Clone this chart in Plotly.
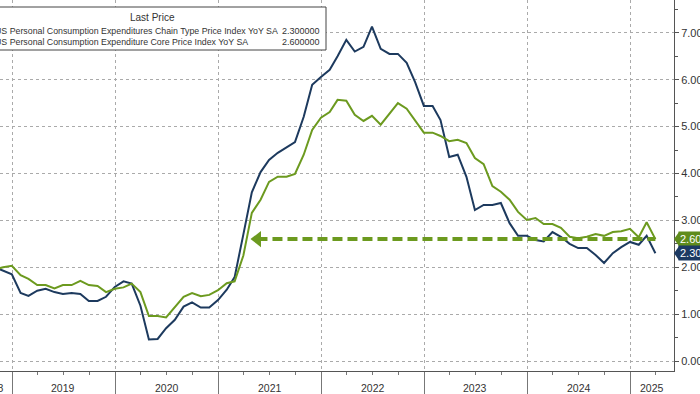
import pandas as pd
import plotly.graph_objects as go

# ---------------- data ----------------
start_month = "2018-10-31"
headline = [
    2.00, 1.93, 1.85,
    1.45, 1.39, 1.50, 1.54, 1.47, 1.43, 1.45, 1.43, 1.28, 1.28, 1.37, 1.58,
    1.70, 1.65, 1.18, 0.46, 0.47, 0.70, 0.88, 1.16, 1.25, 1.14, 1.14, 1.30,
    1.52, 1.79, 2.70, 3.60, 4.03, 4.29, 4.44, 4.55, 4.67, 5.21, 5.89, 6.06,
    6.21, 6.50, 6.85, 6.60, 6.70, 7.13, 6.66, 6.55, 6.55, 6.36, 5.95, 5.44,
    5.44, 5.14, 4.35, 4.40, 3.93, 3.22, 3.33, 3.33, 3.37, 2.94, 2.67, 2.67,
    2.58, 2.55, 2.75, 2.65, 2.50, 2.41, 2.41, 2.26, 2.09, 2.30, 2.43, 2.54,
    2.48, 2.67, 2.30,
]
core = [
    1.95, 2.00, 2.03,
    1.83, 1.75, 1.62, 1.62, 1.55, 1.62, 1.62, 1.71, 1.62, 1.60, 1.47, 1.54,
    1.57, 1.65, 1.47, 0.96, 0.96, 0.93, 1.16, 1.37, 1.45, 1.38, 1.41, 1.51,
    1.66, 1.70, 2.25, 3.16, 3.44, 3.82, 3.93, 3.93, 3.99, 4.40, 4.93, 5.19,
    5.31, 5.57, 5.55, 5.25, 5.12, 5.23, 5.04, 5.27, 5.50, 5.38, 5.12, 4.87,
    4.87, 4.80, 4.69, 4.72, 4.65, 4.33, 4.20, 3.73, 3.61, 3.44, 3.18, 3.01,
    3.05, 2.92, 2.92, 2.84, 2.65, 2.62, 2.65, 2.71, 2.67, 2.75, 2.77, 2.82,
    2.64, 2.96, 2.60,
]
headline_name = "US Personal Consumption Expenditures Chain Type Price Index YoY SA"
core_name = "US Personal Consumption Expenditure Core Price Index YoY SA"
year_labels = ["2019", "2020", "2021", "2022", "2023", "2024", "2025"]
year_label_dates = ["2019-07-02", "2020-07-02", "2021-07-02",
                    "2022-07-02", "2023-07-02", "2024-07-02", "2025-03-20"]
first_year_label = "2018"
year_bounds = ["2019-01-01", "2020-01-01", "2021-01-01", "2022-01-01",
               "2023-01-01", "2024-01-01", "2025-01-01"]
y_ticks = [0, 1, 2, 3, 4, 5, 6, 7]
arrow_tip_date = "2021-05-20"
x_range = ["2018-11-19", "2025-06-05"]
y_range = [-0.213, 7.70]

dates = pd.date_range(start_month, periods=len(headline), freq="ME")

NAVY = "#1d3a5e"
GREEN = "#6c9a1f"
TXT = "#333333"
FONT = "Liberation Sans"

fig = go.Figure()
fig.add_trace(go.Scatter(x=dates, y=headline, mode="lines",
                         line=dict(color=NAVY, width=2), name=headline_name,
                         showlegend=False))
fig.add_trace(go.Scatter(x=dates, y=core, mode="lines",
                         line=dict(color=GREEN, width=2), name=core_name,
                         showlegend=False))
# dashed arrow at the latest core level
last_core = core[-1]
fig.add_trace(go.Scatter(x=[arrow_tip_date, dates[-1]], y=[last_core, last_core],
                         mode="lines", line=dict(color=GREEN, width=4, dash="10px,5px"),
                         showlegend=False, hoverinfo="skip"))
fig.add_trace(go.Scatter(x=[arrow_tip_date], y=[last_core], mode="markers",
                         marker=dict(symbol="triangle-left", size=14, color=GREEN),
                         showlegend=False, hoverinfo="skip"))

W, H = 700, 394
ML, MR, MT, MB = 0, 26, 0, 23
PW, PH = W - ML - MR, H - MT - MB

def px(x):
    return x / PW

def py(y):
    return 1 - y / PH

annotations = []
for lab, d in zip(year_labels, year_label_dates):
    annotations.append(dict(x=d, y=py(388), xref="x", yref="paper", text=lab,
                            showarrow=False, xanchor="center", yanchor="middle",
                            font=dict(family=FONT, size=10.5, color=TXT)))
annotations.append(dict(x=px(-8), y=py(388), xref="paper", yref="paper",
                        text=first_year_label, showarrow=False, xanchor="center",
                        yanchor="middle", font=dict(family=FONT, size=10.5, color=TXT)))

# legend box texts
annotations.append(dict(x=px(152), y=py(18), xref="paper", yref="paper", text="Last Price",
                        showarrow=False, xanchor="center", yanchor="middle",
                        font=dict(family=FONT, size=10, color=TXT)))
for i, (nm, val) in enumerate([(headline_name, headline[-1]), (core_name, core[-1])]):
    yy = py(31 + i * 11)
    annotations.append(dict(x=px(-7), y=yy, xref="paper", yref="paper", text=nm,
                            showarrow=False, xanchor="left", yanchor="middle",
                            font=dict(family=FONT, size=8.8, color=TXT)))
    annotations.append(dict(x=px(322), y=yy, xref="paper", yref="paper",
                            text=f"{val:.6f}", showarrow=False, xanchor="right",
                            yanchor="middle",
                            font=dict(family=FONT, size=9, color=TXT)))

# last price tags
for val, col in [(core[-1], "#5f8c1c"), (headline[-1], "#1d3a63")]:
    annotations.append(dict(x=1, y=val, xref="paper", yref="y", text=f"{val:.3f}",
                            showarrow=False, xanchor="left", yanchor="middle", xshift=4,
                            bgcolor=col, borderpad=1,
                            font=dict(family=FONT, size=11, color="white")))

shapes = [
    dict(type="rect", xref="paper", yref="paper", x0=px(-10), x1=px(326),
         y0=py(50), y1=py(7), line=dict(color="#444", width=1),
         fillcolor="white", layer="above"),
]
for val, col in [(core[-1], "#5f8c1c"), (headline[-1], "#1d3a63")]:
    hh = 7 / 46.86
    shapes.append(dict(type="path", xref="paper", yref="y",
                       path=f"M {px(PW)},{val} L {px(PW + 5)},{val + hh} L {px(PW + 5)},{val - hh} Z",
                       fillcolor=col, line=dict(width=0), layer="above"))

fig.update_layout(
    width=W, height=H,
    margin=dict(l=ML, r=MR, t=MT, b=MB, pad=0),
    paper_bgcolor="white", plot_bgcolor="white",
    font=dict(family=FONT, size=10, color=TXT),
    showlegend=False,
    annotations=annotations,
    shapes=shapes,
    xaxis=dict(type="date", range=x_range, showline=True, linecolor="#555",
               linewidth=1, tickmode="array", tickvals=year_bounds,
               ticktext=["" for _ in year_bounds], ticks="outside", ticklen=23,
               tickcolor="#777", tickwidth=1,
               showgrid=True, gridcolor="#aaaaaa", griddash="dot", gridwidth=1,
               minor=dict(dtick="M3", tick0="2019-01-01", ticks="outside", ticklen=3,
                          tickcolor="#777", showgrid=False),
               zeroline=False, automargin=False, fixedrange=True),
    yaxis=dict(side="right", range=y_range, tickmode="array", tickvals=y_ticks,
               tickformat=".3f", showline=True, linecolor="#555", linewidth=1,
               ticks="outside", ticklen=4, tickcolor="#555",
               showgrid=True, gridcolor="#aaaaaa", griddash="dot", gridwidth=1,
               minor=dict(dtick=0.5, tick0=0, ticks="outside", ticklen=3,
                          tickcolor="#555", showgrid=False),
               zeroline=False, automargin=False,
               tickfont=dict(family=FONT, size=11, color=TXT)),
)

fig.write_html("out.html", config={"displayModeBar": False},
               post_script="document.body.style.margin='0';")
